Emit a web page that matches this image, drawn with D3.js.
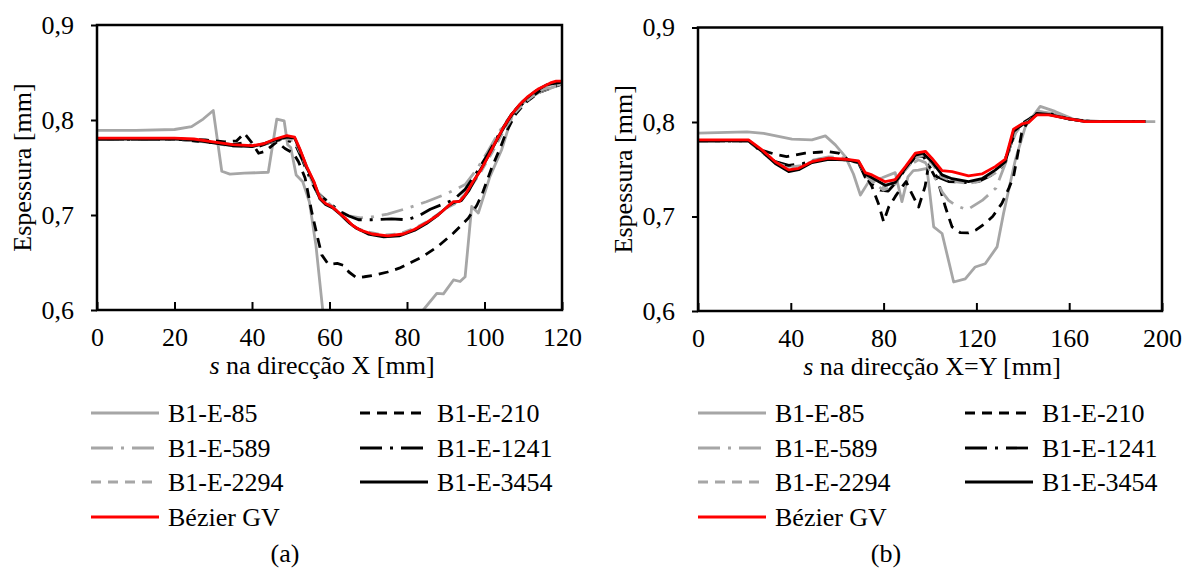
<!DOCTYPE html>
<html><head><meta charset="utf-8">
<script src="https://cdn.jsdelivr.net/npm/d3@7"></script>
<style>
body{margin:0;background:#fff}
</style></head>
<body><svg id="c" width="1191" height="572"></svg>
<script>
// ---------- DATA ----------
const seriesNames = ["B1-E-85","B1-E-210","B1-E-589","B1-E-1241","B1-E-2294","B1-E-3454","Bézier GV"];
const yTicks = [0.6,0.7,0.8,0.9];
const xTicksA = [0,20,40,60,80,100,120];
const xTicksB = [0,40,80,120,160,200];
const xTitleA = " na direcção X [mm]";
const xTitleB = " na direcção X=Y [mm]";
const yTitle = "Espessura [mm]";

// Panel (a): s along X
const a85 = [[0,.789],[10,.789],[20,.790],[24.4,.793],[27.4,.801],[30,.810],[32.2,.746],[34.3,.743],[38,.744],[44.2,.745],[46.4,.801],[48.3,.799],[49.2,.774],[50,.771],[51.4,.742],[53.1,.735],[54.8,.714],[56.5,.668],[58.2,.602],[60,.55],[70,.53],[80,.575],[84.2,.600],[87.7,.6176],[89.4,.617],[92,.6316],[93.7,.630],[95,.635],[96.7,.709],[98.4,.702],[101.4,.7404],[104.4,.7684],[107.4,.808],[110,.818],[114,.829],[120,.838]];
const a210 = [[0,.780],[10,.780],[20,.780],[28,.779],[33,.777],[36,.778],[38,.786],[40,.776],[41.7,.765],[43.4,.767],[46.4,.777],[48.5,.770],[50.7,.765],[52,.756],[53.7,.739],[55.4,.7035],[57,.675],[58,.658],[59.7,.648],[62,.649],[63.6,.647],[65,.640],[67,.634],[69,.635],[72,.637],[75,.640],[78,.644],[81,.650],[84,.656],[88,.667],[92,.681],[95.8,.6965],[98,.710],[99.3,.721],[101.8,.749],[104,.770],[105.7,.788],[108,.806],[110.5,.818],[114,.829],[120,.838]];
const a589 = [[0,.780],[10,.780],[20,.780],[30,.776],[35,.773],[40,.772],[44,.776],[48,.780],[51,.778],[53,.762],[55,.742],[57,.724],[59,.716],[62,.706],[65,.699],[68,.697],[71,.698],[75,.701],[80,.707],[85,.714],[90,.722],[95,.732],[98,.748],[101,.768],[104,.789],[107,.806],[110,.818],[114,.829],[120,.838]];
const a1241 = [[0,.780],[10,.780],[20,.780],[30,.776],[35,.774],[38,.776],[41,.771],[45,.777],[48,.780],[51,.776],[53,.758],[55,.738],[57,.722],[60,.713],[62.5,.704],[65,.699],[67.5,.695],[71,.695],[76,.696],[80,.695],[83,.699],[86,.706],[89,.711],[92,.716],[95,.727],[98,.745],[101,.765],[104,.787],[107,.806],[110,.818],[114,.830],[120,.839]];
const a2294 = [[0,.780],[10,.780],[20,.780],[30,.776],[35,.772],[40,.772],[44,.776],[48,.781],[51,.779],[53,.760],[55,.740],[57,.722],[59,.715],[61,.708],[63,.700],[65,.692],[67,.686],[70,.682],[74,.679],[78,.680],[82,.686],[86,.695],[90,.707],[93,.713],[96,.727],[99,.745],[102,.766],[105,.789],[108,.808],[111,.821],[115,.832],[120,.838]];
const a3454 = [[0,.780],[10,.780],[20,.780],[25,.779],[30,.776],[35,.773],[40,.772],[43,.775],[46,.779],[49,.782],[51,.781],[52.5,.767],[54,.751],[56,.734],[57.5,.717],[59,.711],[61,.707],[63,.700],[65,.692],[67,.686],[70,.680],[74,.677],[78,.678],[82,.684],[85,.691],[88,.700],[90.5,.709],[92,.713],[94,.715],[96,.726],[98,.741],[100,.755],[102,.770],[104,.785],[106,.799],[108,.811],[110,.820],[113,.830],[116,.837],[120,.840]];
const aBez = [[0,.781],[10,.781],[20,.781],[25,.780],[30,.777],[35,.774],[40,.773],[43,.775],[46,.780],[49,.7835],[51,.782],[52.5,.768],[54,.752],[56,.735],[57.5,.718],[59,.712],[60.5,.709],[62,.704],[64,.697],[66,.689],[68,.684],[71,.680],[75,.678],[79,.680],[82,.685],[85,.692],[88,.700],[90.5,.709],[92,.714],[93.5,.714],[95,.721],[97,.735],[99,.747],[101,.762],[103,.778],[105,.793],[107,.806],[109,.816],[111,.824],[114,.833],[117,.839],[118.5,.841],[120,.841]];

// Panel (b): s along X=Y
const b85 = [[0,.7882],[21.1,.7896],[28.3,.788],[40.5,.7818],[49.1,.781],[54.9,.7853],[59.2,.7758],[63.5,.7634],[67,.745],[70,.7227],[73.6,.7369],[79.4,.741],[85,.7464],[87.9,.7157],[90.5,.742],[92.8,.7485],[95,.749],[98.7,.751],[101.6,.689],[105.2,.682],[110.2,.6307],[115.2,.634],[119.5,.6466],[123.8,.650],[128.9,.6678],[131.7,.7033],[136.8,.760],[141.1,.7952],[147.5,.8165],[153.9,.8112],[162.5,.8023],[175,.8005],[197.1,.8005]];
const b210 = [[0,.780],[21.8,.780],[27.6,.770],[33,.766],[38.2,.7634],[46.2,.767],[52,.768],[56.3,.7687],[60.6,.767],[64.9,.760],[69,.757],[72,.745],[75,.7316],[78,.712],[80,.6944],[82.2,.710],[85,.721],[87.5,.730],[89.7,.737],[92,.725],[95.1,.710],[97.9,.732],[99.4,.7546],[101.5,.745],[103.7,.7351],[106.6,.7103],[109.5,.689],[113,.683],[116.6,.6827],[120,.686],[123.8,.6927],[127,.700],[131,.7139],[134,.730],[136,.742],[139.5,.7882],[142,.800],[146,.809],[152,.808],[160,.803],[170,.8005],[193,.8005]];
const b589 = [[0,.780],[21.8,.780],[27.6,.768],[33.3,.758],[39.1,.753],[45,.755],[50,.760],[56.3,.763],[63.5,.762],[69.2,.757],[72,.745],[76,.737],[80,.731],[83,.735],[87,.744],[91,.754],[95,.760],[98,.757],[100.8,.745],[103,.738],[105.2,.726],[108,.717],[110.9,.712],[116,.707],[122.5,.717],[128.4,.730],[132.5,.756],[135,.776],[138,.795],[142,.802],[147,.811],[153,.809],[160,.803],[170,.8005],[193,.8005]];
const b1241 = [[0,.780],[21.8,.780],[27.6,.768],[33.3,.758],[39.1,.754],[45,.756],[50,.759],[56.3,.761],[63.5,.760],[69.2,.757],[72,.742],[75,.734],[78.6,.728],[82,.727],[85,.735],[89.4,.750],[93.7,.763],[97,.764],[100,.752],[103,.742],[108,.737],[115,.736],[121,.737],[126,.743],[131,.753],[134,.770],[137,.792],[140,.799],[144,.805],[148,.810],[153,.808],[160,.803],[170,.8005],[193,.8005]];
const b2294 = [[0,.780],[21.8,.780],[27.6,.768],[33.3,.757],[39.1,.752],[45,.754],[50,.759],[56.3,.761],[63.5,.760],[69.2,.758],[72,.744],[76,.735],[80,.728],[84,.732],[89,.748],[93.7,.762],[97,.765],[100.8,.756],[105,.742],[110,.737],[116.6,.735],[122.4,.738],[128.1,.746],[132.5,.757],[136,.786],[139.7,.797],[143,.802],[147,.811],[152,.809],[158.3,.804],[167,.8005],[193,.8005]];
const b3454 = [[0,.780],[21.8,.780],[27.6,.769],[33.3,.756],[39.1,.7475],[43.4,.7495],[49.1,.757],[56.3,.7605],[63.5,.760],[69.2,.758],[72.1,.745],[75,.741],[80.7,.733],[85,.736],[89.4,.751],[93.7,.765],[97,.767],[100.8,.758],[105.2,.744],[109.5,.740],[116.6,.737],[122.4,.740],[128.1,.749],[132.5,.758],[136,.790],[139.7,.797],[142.5,.800],[146.1,.809],[151.1,.808],[158.3,.804],[167,.8005],[192.8,.8005]];
const bBez = [[0,.781],[10,.781],[21.8,.781],[27.6,.7705],[33.3,.758],[39.1,.7493],[43.4,.751],[49.1,.758],[56.3,.7617],[63.5,.7606],[69.2,.7588],[72.1,.7464],[75,.744],[80.7,.7369],[85,.739],[89.4,.7528],[93.7,.767],[98,.769],[100.8,.7617],[105.2,.7485],[109.5,.7475],[116.6,.7429],[122.4,.745],[128.1,.7528],[132.5,.7606],[136,.7925],[139.7,.798],[142.5,.7995],[146.1,.8076],[151.1,.8076],[158.3,.8041],[167,.8005],[184.2,.8005],[192.8,.8005]];

// ---------- STYLE ----------
const GRAY = "#a6a6a6";
const styles = [
  {color:GRAY, dash:null},
  {color:"#000", dash:"10,7"},
  {color:GRAY, dash:"22,8,3,8"},
  {color:"#000", dash:"22,8,3,8"},
  {color:GRAY, dash:"10,7"},
  {color:"#000", dash:null},
  {color:"#ff0000", dash:null}
];
const FS = 26;
const FONT = '"Liberation Serif"';
const SW = 2.8;
const svg = d3.select("#c");
const fmt = d => d3.format(".1f")(d).replace(".", ",");

function panel(p){
  const x = d3.scaleLinear().domain([0, p.xmax]).range([p.l, p.r]);
  const y = d3.scaleLinear().domain([0.6, 0.9]).range([p.b, p.t]);
  const g = svg.append("g");
  const cid = "clip" + p.id;
  g.append("clipPath").attr("id", cid).append("rect")
    .attr("x", p.l).attr("y", p.t).attr("width", p.r - p.l).attr("height", p.b - p.t);

  // axes
  const ya = g.append("g").attr("transform", `translate(${p.l},0)`)
    .call(d3.axisLeft(y).tickValues(yTicks).tickFormat(fmt).tickSizeInner(6).tickSizeOuter(0).tickPadding(17));
  const xa = g.append("g").attr("transform", `translate(0,${p.b})`)
    .call(d3.axisBottom(x).tickValues(p.xticks).tickFormat(d3.format("d")).tickSizeInner(-8).tickSizeOuter(0).tickPadding(18));
  [ya, xa].forEach(a => {
    a.attr("font-family", FONT).attr("font-size", FS);
    a.select(".domain").remove();
    a.selectAll("line").attr("stroke", "#000").attr("stroke-width", 2);
    a.selectAll("text").attr("fill", "#000").attr("font-family", FONT).attr("font-size", FS);
  });

  // lines
  const line = d3.line().x(d => x(d[0])).y(d => y(d[1]));
  const lg = g.append("g").attr("clip-path", `url(#${cid})`);
  p.data.forEach((d, i) => {
    lg.append("path").attr("d", line(d)).attr("fill", "none")
      .attr("stroke", styles[i].color).attr("stroke-width", SW)
      .attr("stroke-linejoin", "round")
      .attr("stroke-dasharray", styles[i].dash);
  });

  // frame
  g.append("rect").attr("x", p.l).attr("y", p.t).attr("width", p.r - p.l).attr("height", p.b - p.t)
    .attr("fill", "none").attr("stroke", "#000").attr("stroke-width", 2.5);

  // titles
  g.append("text").attr("transform", `translate(${p.l - 75},${(p.t + p.b) / 2}) rotate(-90)`)
    .attr("text-anchor", "middle").attr("dominant-baseline", "central")
    .attr("font-family", FONT).attr("font-size", FS).text(yTitle);
  const xt = g.append("text").attr("x", p.xtc).attr("y", p.b + 64)
    .attr("text-anchor", "middle").attr("font-family", FONT).attr("font-size", FS);
  xt.append("tspan").attr("font-style", "italic").text("s");
  xt.append("tspan").text(p.xtitle);

  // legend
  const rows = [413, 448, 482, 517];
  seriesNames.forEach((n, i) => {
    const col = i % 2, row = Math.floor(i / 2);
    const lx = col === 0 ? p.lg1 : p.lg2;
    const yy = rows[row];
    g.append("line").attr("x1", lx).attr("x2", lx + 68).attr("y1", yy).attr("y2", yy)
      .attr("stroke", styles[i].color).attr("stroke-width", SW)
      .attr("stroke-dasharray", styles[i].dash);
    g.append("text").attr("x", lx + 77).attr("y", yy).attr("dominant-baseline", "central")
      .attr("font-family", FONT).attr("font-size", FS).text(n);
  });
  g.append("text").attr("x", p.cap).attr("y", 553).attr("text-anchor", "middle")
    .attr("dominant-baseline", "central").attr("font-family", FONT).attr("font-size", FS).text(p.label);
}

panel({id:"a", l:97, r:562, t:25, b:310, xmax:120, xticks:xTicksA, xtitle:xTitleA, xtc:322,
  data:[a85,a210,a589,a1241,a2294,a3454,aBez], lg1:91, lg2:360, cap:285, label:"(a)"});
panel({id:"b", l:698, r:1162, t:27.5, b:311, xmax:200, xticks:xTicksB, xtitle:xTitleB, xtc:932,
  data:[b85,b210,b589,b1241,b2294,b3454,bBez], lg1:698, lg2:965, cap:886, label:"(b)"});
</script></body></html>
